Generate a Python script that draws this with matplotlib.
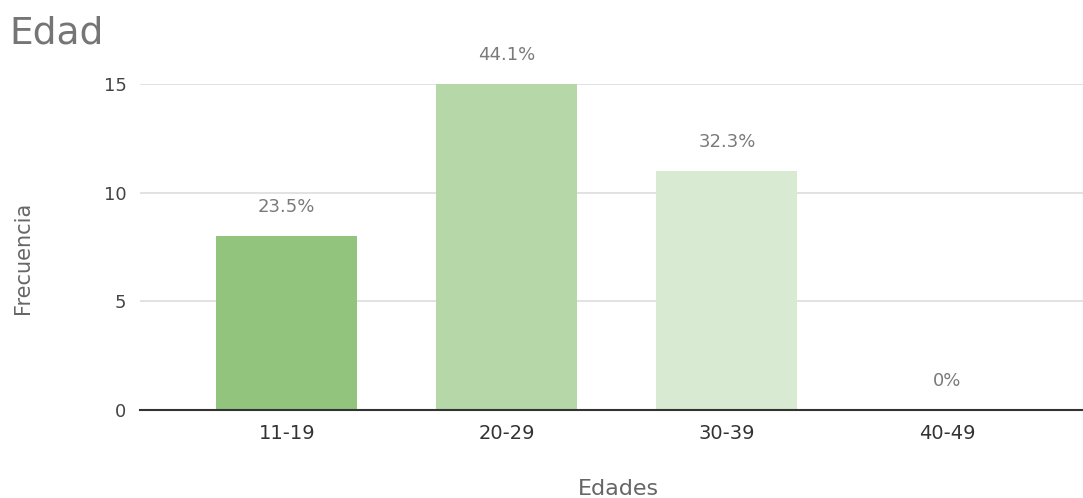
import matplotlib.pyplot as plt

# Datos
edades = ['11-19', '20-29', '30-39', '40-49']
frecuencia = [8, 15, 11, 0]
porcentajes = ['23.5%', '44.1%', '32.3%', '0%']
colores = ['#93c47d', '#b6d7a8', '#d9ead3', '#eef5ea']
yticks = [0, 5, 10, 15]

plt.rcParams['font.family'] = ['DejaVu Sans']

fig = plt.figure(figsize=(10.83, 4.98), dpi=100)
ax = fig.add_axes([0.129, 0.1767, 0.871, 0.6546])

x = range(len(edades))
ax.bar(x, frecuencia, width=0.64, color=colores, zorder=2)

# Etiquetas de porcentaje encima de cada barra
for xi, v, p in zip(x, frecuencia, porcentajes):
    ax.annotate(p, (xi, v), xytext=(0, 14.5), textcoords='offset points',
                ha='center', va='bottom', fontsize=13, color='#7a7a7a',
                annotation_clip=False)

ax.set_xlim(-0.668, 3.618)
ax.set_ylim(0, 15)
ax.set_yticks(yticks)
ax.set_xticks(list(x))
ax.set_xticklabels(edades, fontsize=14, color='#333333')
ax.tick_params(axis='y', labelsize=13, labelcolor='#444444', length=0, pad=9.5)
ax.tick_params(axis='x', length=0, pad=10)

ax.grid(axis='y', color='#dddddd', linewidth=1.2, zorder=0)
for s in ['top', 'right', 'left']:
    ax.spines[s].set_visible(False)
ax.spines['bottom'].set_color('#333333')
ax.spines['bottom'].set_linewidth(1.5)
ax.spines['bottom'].set_zorder(3)

ax.set_ylabel('Frecuencia', fontsize=15, color='#666666')
ax.yaxis.set_label_coords(-0.113, 0.466)
ax.set_xlabel('Edades', fontsize=16, color='#666666')
ax.xaxis.set_label_coords(0.507, -0.211)

fig.text(0.009, 0.933, 'Edad', fontsize=27, color='#757575', va='center', ha='left')

plt.savefig('out.png', dpi=100)
